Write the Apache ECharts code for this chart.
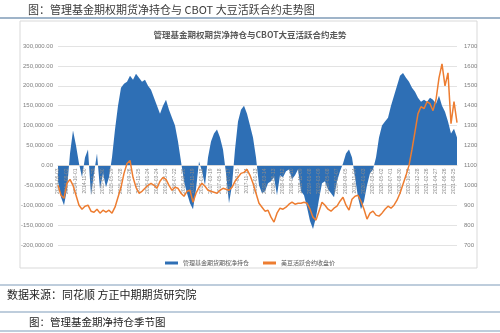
<!DOCTYPE html>
<html><head><meta charset="utf-8">
<script src="https://cdn.jsdelivr.net/npm/echarts@6/dist/echarts.min.js"></script>
<style>html,body{margin:0;padding:0;background:#fff}#c{width:500px;height:333px}</style>
</head><body><div id="c"></div>
<script>
// net position of managed funds (futures + options), contracts
const netPosition = [-40000,-80000,-100000,-60000,30000,88000,50000,5000,-30000,20000,40000,-75000,-20000,30000,-60000,-20000,-55000,-30000,20000,90000,
150000,195000,205000,210000,225000,215000,230000,220000,210000,215000,200000,190000,170000,150000,130000,150000,165000,140000,120000,100000,
60000,10000,-40000,-70000,-95000,-110000,-60000,10000,-15000,-50000,20000,60000,80000,90000,70000,40000,-20000,-95000,-50000,40000,
110000,140000,150000,130000,100000,70000,20000,-50000,-70000,-65000,-45000,-40000,-30000,-75000,-25000,-30000,-15000,-10000,-35000,-25000,
-10000,-65000,-75000,-105000,-140000,-160000,-130000,-85000,-45000,-40000,-60000,-70000,-80000,-40000,-15000,5000,30000,40000,20000,-30000,
-80000,-110000,-90000,-50000,-20000,-10000,20000,70000,100000,110000,120000,150000,175000,200000,225000,232000,220000,210000,195000,185000,
170000,160000,165000,160000,170000,165000,155000,175000,150000,135000,110000,80000,92000,70000];
// CBOT soybean active contract close, cents/bu
const soyPrice = [1000,950,935,1010,1030,1000,950,900,880,895,900,870,865,880,860,875,865,875,860,890,
940,990,1060,1110,1125,1040,990,960,970,985,1000,1010,1000,985,1020,1040,1030,1000,975,990,
985,960,945,970,975,915,960,990,1010,995,975,970,965,960,975,985,980,975,990,1020,
1040,1060,1065,1080,1050,1010,960,910,890,870,875,840,815,860,885,880,890,905,915,905,
910,910,915,910,880,840,825,870,915,900,880,870,885,895,920,940,900,875,930,945,
950,920,880,830,860,870,850,845,860,880,895,885,900,925,960,1005,1050,1100,1180,1270,
1360,1395,1385,1420,1410,1375,1430,1540,1610,1500,1565,1310,1420,1315];
const seriesNames = ['管理基金期货期权净持仓','美豆活跃合约收盘价'];
const leftTicks = {min:-200000,max:300000,interval:50000};
const rightTicks = {min:700,max:1700,interval:100};
// report dates (every 20 days from 2014-06-03)
const dates = [];
(function(){let d=new Date(Date.UTC(2014,5,3));for(let i=0;i<netPosition.length;i++){dates.push(d.toISOString().slice(0,10));d=new Date(d.getTime()+20*864e5);}})();

const chart = echarts.init(document.getElementById('c'));
const serifCJK = '"Noto Sans CJK SC", sans-serif';
// grid geometry: the zero of the left axis sits 80px above the grid bottom
const zeroOffset = -(0 - leftTicks.min) / (leftTicks.max - leftTicks.min) * (333 - 46 - 88);
chart.setOption({
  animation:false,
  backgroundColor:'#fff',
  graphic:[
    {type:'text',left:28,top:4,style:{text:'图：管理基金期权期货净持仓与 CBOT 大豆活跃合约走势图',font:'11px '+serifCJK,fill:'#3a3a3a'}},
    {type:'line',shape:{x1:0,y1:18,x2:500,y2:18},style:{stroke:'#9fb4c9',lineWidth:2}},
    {type:'rect',shape:{x:20,y:21,width:457,height:247},style:{fill:'#fff',stroke:'#d9d9d9',lineWidth:1},z:-10},
    {type:'line',shape:{x1:0,y1:285,x2:500,y2:285},style:{stroke:'#a9bdd1',lineWidth:1.5}},
    {type:'text',left:7,top:289,style:{text:'数据来源：同花顺 方正中期期货研究院',font:'11px '+serifCJK,fill:'#222'}},
    {type:'line',shape:{x1:0,y1:312,x2:500,y2:312},style:{stroke:'#a9bdd1',lineWidth:1.5}},
    {type:'text',left:29,top:317,style:{text:'图：管理基金期净持仓季节图',font:'10.5px '+serifCJK,fill:'#222'}},
    {type:'line',shape:{x1:0,y1:331,x2:500,y2:331},style:{stroke:'#a9bdd1',lineWidth:1.5}}
  ],
  title:{text:'管理基金期权期货净持仓与CBOT大豆活跃合约走势',left:'center',top:26,
    textStyle:{fontSize:8.5,fontWeight:'bold',color:'#595959',fontFamily:serifCJK}},
  legend:{top:255,left:'center',itemWidth:13,itemHeight:3,itemGap:14,icon:'rect',
    textStyle:{fontSize:6,color:'#595959',fontFamily:serifCJK},data:seriesNames},
  grid:{left:58,right:43,top:46,bottom:88,containLabel:false},
  xAxis:{type:'category',data:dates,boundaryGap:false,position:'bottom',offset:zeroOffset,
    axisLine:{onZero:false,lineStyle:{color:'#d9d9d9'}},axisTick:{show:false},z:2,
    axisLabel:{rotate:90,interval:2,fontSize:5,color:'#8c8c8c',margin:3}},
  yAxis:[
    {type:'value',min:leftTicks.min,max:leftTicks.max,interval:leftTicks.interval,
      axisLabel:{fontSize:6,color:'#7f7f7f',margin:5,formatter:v=>v.toLocaleString('en-US',{minimumFractionDigits:2,maximumFractionDigits:2})},
      axisLine:{show:false},axisTick:{show:false},splitLine:{lineStyle:{color:'#e3e3e3'}}},
    {type:'value',min:rightTicks.min,max:rightTicks.max,interval:rightTicks.interval,
      axisLabel:{fontSize:6,color:'#7f7f7f',margin:7,formatter:v=>String(v)},
      axisLine:{show:false},axisTick:{show:false},splitLine:{show:false}}
  ],
  series:[
    {name:seriesNames[0],type:'line',yAxisIndex:0,data:netPosition,showSymbol:false,
      lineStyle:{width:0},itemStyle:{color:'#2e6fb5'},areaStyle:{color:'#2e6fb5',opacity:1},z:1},
    {name:seriesNames[1],type:'line',yAxisIndex:1,data:soyPrice,showSymbol:false,
      lineStyle:{width:1.5,color:'#ed7d31'},itemStyle:{color:'#ed7d31'},z:3}
  ]
});
</script></body></html>
